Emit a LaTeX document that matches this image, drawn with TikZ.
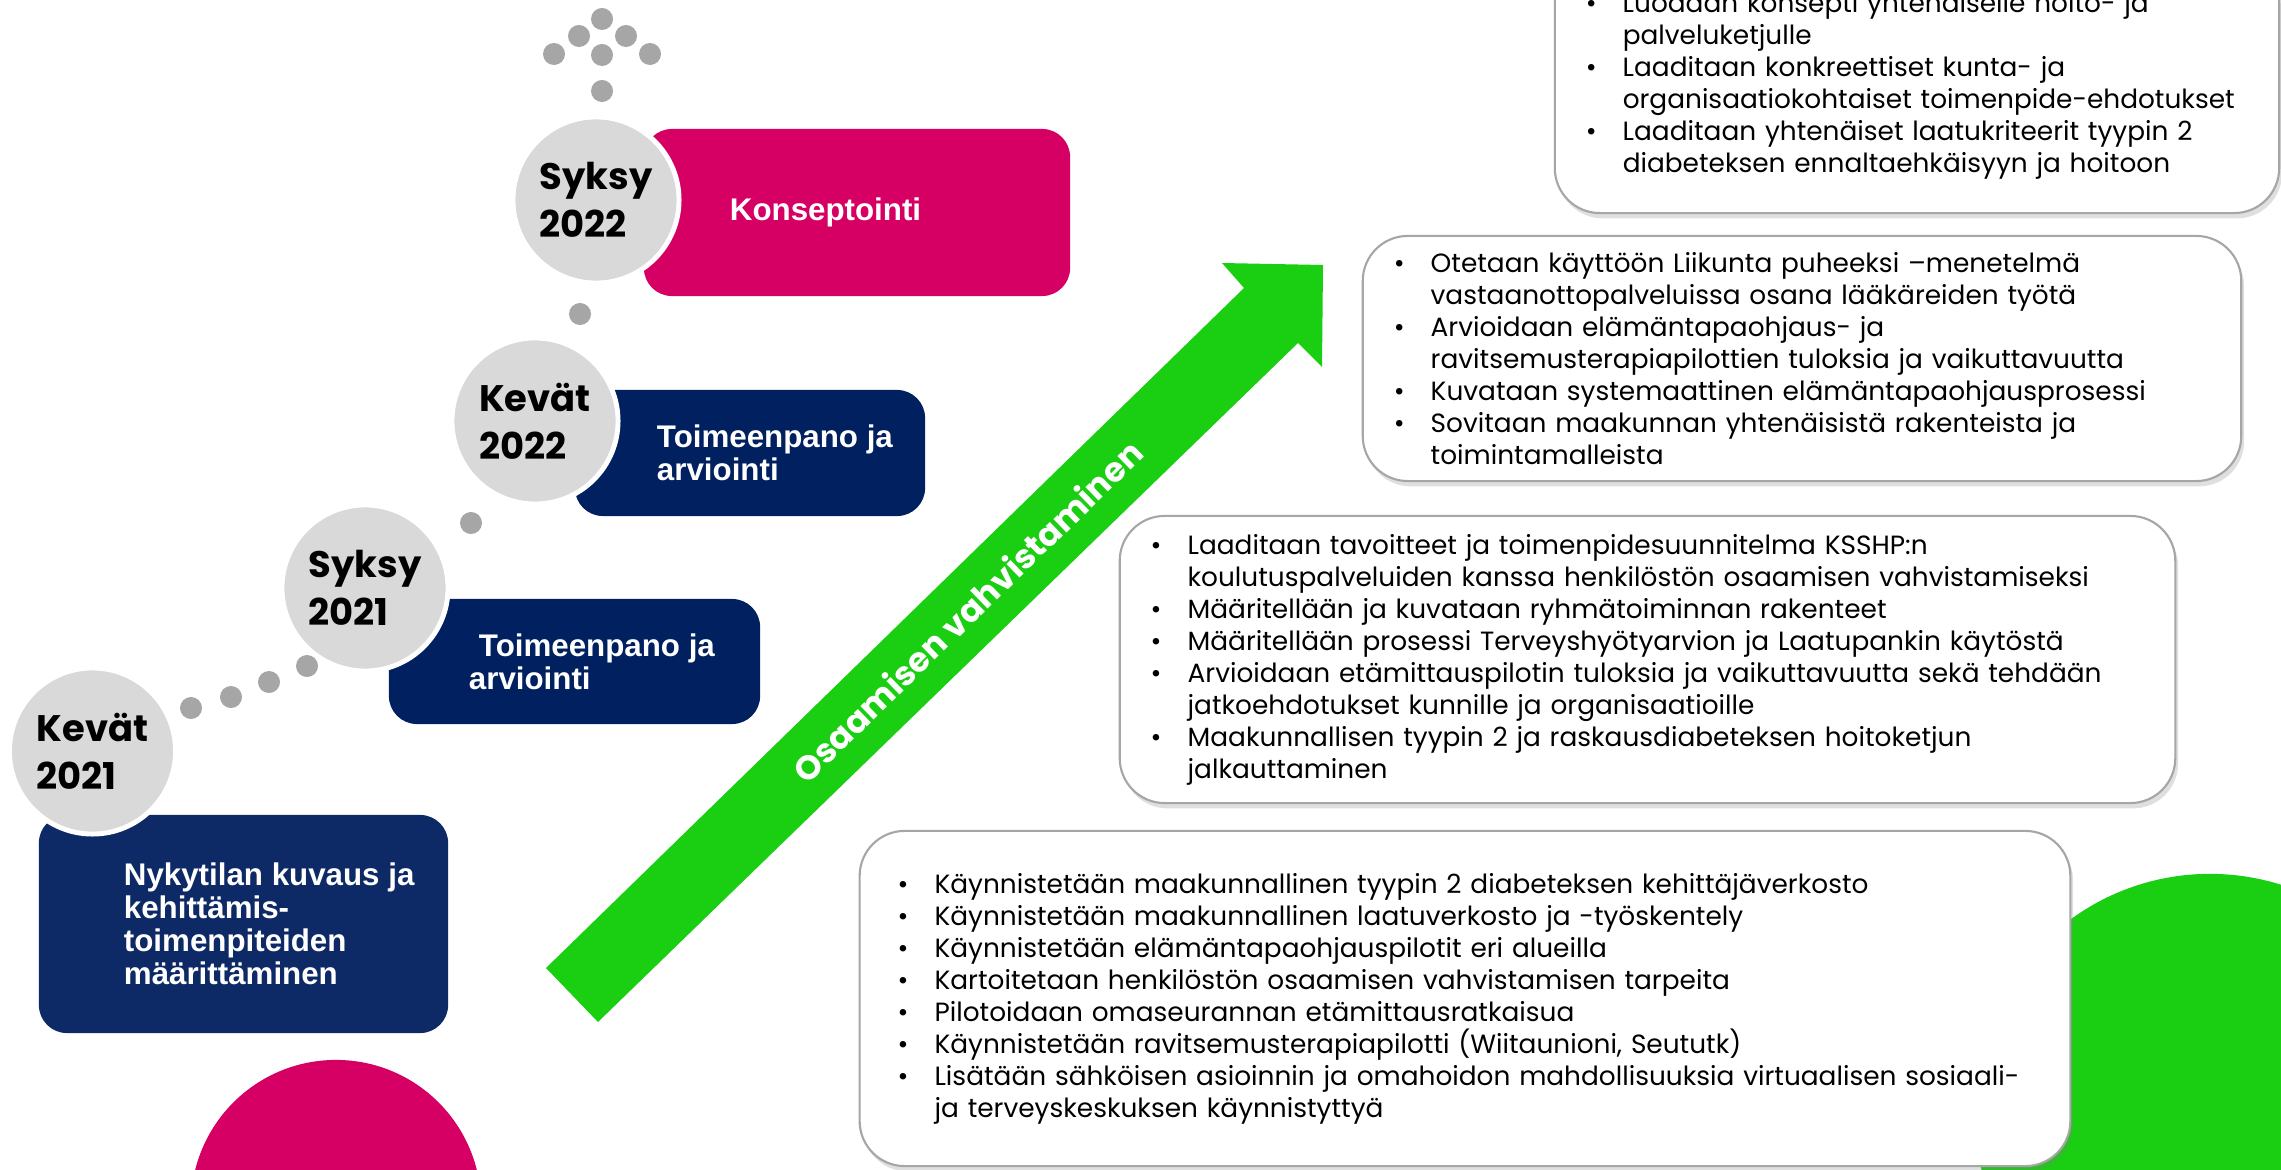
\documentclass[tikz,border=0pt]{standalone}
\usepackage{fontspec}
\setmainfont{Poppins}
\newfontfamily\arialfont{Liberation Sans}
\usetikzlibrary{positioning,shadows}
\definecolor{pinkki}{HTML}{D60064}
\definecolor{tumma}{HTML}{002060}
\definecolor{sininen}{HTML}{0E2A66}
\definecolor{vihrea}{HTML}{1ACF12}
\definecolor{harmaa}{HTML}{D9D9D9}
\definecolor{pisteharmaa}{HTML}{A6A6A6}
\newcommand{\kohta}[1]{\mbox{\makebox[10.5pt][l]{\textbullet}#1}}
\newcommand{\jatko}[1]{\mbox{\hspace*{10.5pt}#1}}

\begin{document}
\begin{tikzpicture}[x=0.01cm,y=-0.01cm,
    kausi/.style={circle,fill=harmaa,draw=white,line width=1.4pt,minimum size=1.66cm,inner sep=0pt,align=left,font=\fontsize{10.5}{13.6}\selectfont\bfseries},
    vaihe/.style={rounded corners=0.28cm,inner sep=0pt},
    vaiheteksti/.style={inner sep=0pt,align=left,text=white,font=\arialfont\bfseries\fontsize{8.9}{9.35}\selectfont},
    lista/.style={draw=pisteharmaa,line width=0.6pt,fill=white,rounded corners=0.45cm,align=left,inner xsep=0.31cm,inner ysep=0pt,font=\fontsize{7.5}{9.1}\selectfont,drop shadow={shadow xshift=0.8pt,shadow yshift=-1.5pt,opacity=0.25}},
    piste/.style={fill=pisteharmaa}]
  \useasboundingbox (0,0) rectangle (2281,1170);
  \clip (0,0) rectangle (2281,1170);
  \fill[white] (0,0) rectangle (2281,1170);

  % taustapallot
  \fill[pinkki] (336,1205) circle[radius=1.45cm];
  \fill[vihrea] (2210,1110) circle[radius=2.36cm];

  % nuoli
  \fill[vihrea] (546,968) -- (1244,288) -- (1222,263) -- (1323,265) -- (1322,367) -- (1298,343) -- (598,1022) -- cycle;
  \node[rotate=44.2,text=white,font=\fontsize{9.6}{12}\selectfont\bfseries] (osaaminen) at (967,611) {Osaamisen vahvistaminen};

  % pisteet
  \foreach \px/\py in {602/19,579/36,626/36,554/54,602/55,650/54,602/91,580/314,471/523,307/666,269/682,231/697,191/708}
    \fill[piste] (\px,\py) circle[radius=0.11cm];

  % vaiheet
  \node[vaihe,fill=pinkki,minimum width=4.26cm,minimum height=1.67cm] (konsepti) at (857,212.5) {};
  \node[vaihe,fill=tumma,minimum width=3.50cm,minimum height=1.26cm] (toimeen22) at (750,453) {};
  \node[vaihe,fill=tumma,minimum width=3.71cm,minimum height=1.25cm] (toimeen21) at (574.5,661.5) {};
  \node[vaihe,fill=sininen,minimum width=4.09cm,minimum height=2.18cm] (nyky) at (243.5,924) {};

  \node[vaiheteksti,right=0.86cm of konsepti.west] (konseptiteksti) {Konseptointi};
  \node[vaiheteksti,right=0.82cm of toimeen22.west] (toimeen22teksti) {Toimeenpano ja\\arviointi};
  \node[vaiheteksti,right=0.80cm of toimeen21.west] (toimeen21teksti) {\hspace*{0.1cm}Toimeenpano ja\\arviointi};
  \node[vaiheteksti,right=0.85cm of nyky.west] (nykyteksti) {Nykytilan kuvaus ja\\kehittämis-\\toimenpiteiden\\määrittäminen};

  % kaudet
  \node[kausi] (syksy22) at (596,200) {Syksy\\2022};
  \node[kausi] (kevat22) at (535,421) {Kevät\\2022};
  \node[kausi] (syksy21) at (365,588) {Syksy\\2021};
  \node[kausi] (kevat21) at (92.5,751) {Kevät\\2021};

  % toimenpiteet
  \node[lista,text width=6.62cm,minimum height=2.54cm] (toimet22s) at (1917,86) {%
    \kohta{Luodaan konsepti yhtenäiselle hoito- ja}\\
    \jatko{palveluketjulle}\\
    \kohta{Laaditaan konkreettiset kunta- ja}\\
    \jatko{organisaatiokohtaiset toimenpide-ehdotukset}\\
    \kohta{Laaditaan yhtenäiset laatukriteerit tyypin 2}\\
    \jatko{diabeteksen ennaltaehkäisyyn ja hoitoon}};
  \node[lista,text width=8.16cm,minimum height=2.45cm] (toimet22k) at (1802,358.5) {%
    \kohta{Otetaan käyttöön Liikunta puheeksi –menetelmä}\\
    \jatko{vastaanottopalveluissa osana lääkäreiden työtä}\\
    \kohta{Arvioidaan elämäntapaohjaus- ja}\\
    \jatko{ravitsemusterapiapilottien tuloksia ja vaikuttavuutta}\\
    \kohta{Kuvataan systemaattinen elämäntapaohjausprosessi}\\
    \kohta{Sovitaan maakunnan yhtenäisistä rakenteista ja}\\
    \jatko{toimintamalleista}};
  \node[lista,text width=9.93cm,minimum height=2.87cm] (toimet21s) at (1647.5,659.5) {%
    \kohta{Laaditaan tavoitteet ja toimenpidesuunnitelma KSSHP:n}\\
    \jatko{koulutuspalveluiden kanssa henkilöstön osaamisen vahvistamiseksi}\\
    \kohta{Määritellään ja kuvataan ryhmätoiminnan rakenteet}\\
    \kohta{Määritellään prosessi Terveyshyötyarvion ja Laatupankin käytöstä}\\
    \kohta{Arvioidaan etämittauspilotin tuloksia ja vaikuttavuutta sekä tehdään}\\
    \jatko{jatkoehdotukset kunnille ja organisaatioille}\\
    \kohta{Maakunnallisen tyypin 2 ja raskausdiabeteksen hoitoketjun}\\
    \jatko{jalkauttaminen}};
  \node[lista,inner xsep=0.38cm,text width=11.34cm,minimum height=3.35cm] (toimet21k) at (1465,998.5) {%
    \kohta{Käynnistetään maakunnallinen tyypin 2 diabeteksen kehittäjäverkosto}\\
    \kohta{Käynnistetään maakunnallinen laatuverkosto ja -työskentely}\\
    \kohta{Käynnistetään elämäntapaohjauspilotit eri alueilla}\\
    \kohta{Kartoitetaan henkilöstön osaamisen vahvistamisen tarpeita}\\
    \kohta{Pilotoidaan omaseurannan etämittausratkaisua}\\
    \kohta{Käynnistetään ravitsemusterapiapilotti (Wiitaunioni, Seututk)}\\
    \kohta{Lisätään sähköisen asioinnin ja omahoidon mahdollisuuksia virtuaalisen sosiaali-}\\
    \jatko{ja terveyskeskuksen käynnistyttyä}};
\end{tikzpicture}
\end{document}
